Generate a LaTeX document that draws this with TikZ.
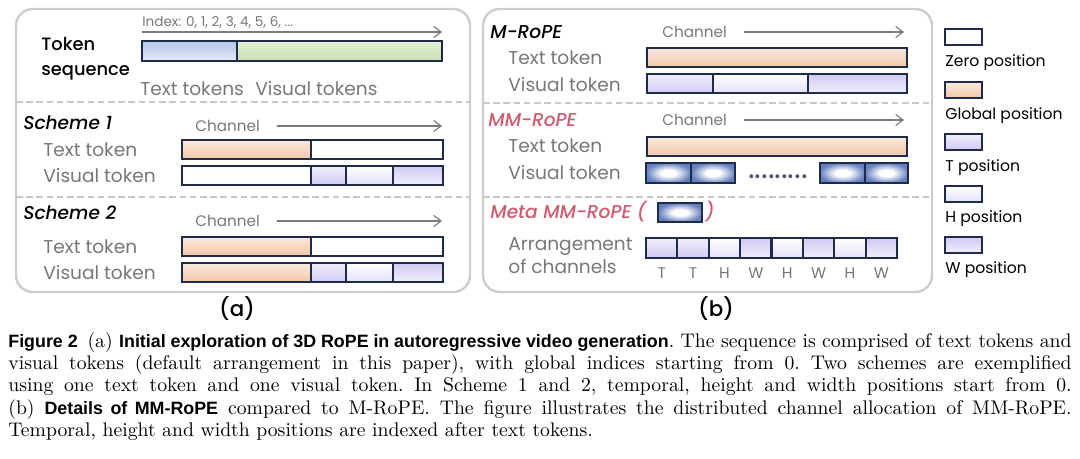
\documentclass[tikz,border=0pt]{standalone}
\usepackage{fontspec}
\newfontfamily\figfont{Poppins}
\newfontfamily\fighead{Poppins Medium Italic}
\newfontfamily\figmed{Poppins Medium}
\newfontfamily\capsf{Liberation Sans}
\usetikzlibrary{arrows.meta}

\definecolor{navy}{HTML}{1E2B4A}
\definecolor{panelgray}{HTML}{CDCDCD}
\definecolor{sepgray}{HTML}{C8C8C8}
\definecolor{labelgray}{HTML}{777777}
\definecolor{arrowgray}{HTML}{7A7A7A}
\definecolor{ropered}{HTML}{D05A6E}
\definecolor{peachtop}{HTML}{FBE9DC}
\definecolor{peachbot}{HTML}{F2C7A8}
\definecolor{bluetop}{HTML}{B4C7E6}
\definecolor{bluebot}{HTML}{E3EBF6}
\definecolor{greentop}{HTML}{E4F0D9}
\definecolor{greenbot}{HTML}{C7DFB2}
\definecolor{lilacdeep}{HTML}{D2CAF3}
\definecolor{lilaclight}{HTML}{F0EEFC}
\definecolor{metablue}{HTML}{4E6DB4}

\pgfdeclareradialshading{metaglow}{\pgfpoint{0bp}{0bp}}{color(0bp)=(white); color(8bp)=(white); color(25bp)=(metablue!85); color(50bp)=(metablue)}

\tikzset{
  panel/.style={draw=panelgray, line width=1.3pt, rounded corners=9pt},
  sepline/.style={draw=sepgray, line width=0.9pt, dash pattern=on 3.5pt off 2pt},
  cell/.style={draw=navy, line width=1.1pt},
  zeropos/.style={cell, fill=white},
  globalpos/.style={cell, top color=peachtop, bottom color=peachbot},
  tpos/.style={cell, top color=lilaclight, bottom color=lilacdeep},
  hpos/.style={cell, top color=white, bottom color=lilaclight!60!lilacdeep},
  wpos/.style={cell, top color=lilacdeep, bottom color=lilaclight},
  textpos/.style={cell, top color=bluetop, bottom color=bluebot},
  vispos/.style={cell, top color=greentop, bottom color=greenbot},
  metapos/.style={cell, shading=metaglow},
  lbl/.style={inner sep=0pt, anchor=west, text=labelgray, font=\figfont\fontsize{10}{12.4}\selectfont},
  head/.style={inner sep=0pt, anchor=west, font=\fighead\fontsize{10}{12}\selectfont},
  chan/.style={inner sep=0pt, anchor=west, text=labelgray, font=\figfont\fontsize{8.2}{10}\selectfont},
  tiny/.style={inner sep=0pt, text=labelgray, font=\figfont\fontsize{8.3}{9}\selectfont},
  legtxt/.style={inner sep=0pt, anchor=west, font=\figfont\fontsize{8.4}{10}\selectfont},
  garrow/.style={draw=arrowgray, line width=0.6pt, -{Straight Barb[length=4pt,width=6pt]}},
}
\newcommand\capbold{\capsf\bfseries\fontsize{9.6}{12}\selectfont}

\begin{document}
\begin{tikzpicture}[x=0.538pt, y=-0.538pt]
	\useasboundingbox (0,0) rectangle (1080,458);

	% Panels and separators
	\draw[panel] (16,9) rectangle (470,292);
	\draw[panel] (483,9) rectangle (932,292);
	\draw[sepline] (16,102) -- (470,102);
	\draw[sepline] (16,197) -- (470,197);
	\draw[sepline] (483,103) -- (932,103);
	\draw[sepline] (483,197) -- (932,197);

	% (a) Token sequence
	\node[inner sep=0pt, anchor=west, align=left, font=\figmed\fontsize{9.6}{13.5}\selectfont] (tokseq) at (41,59) {Token\\sequence};
	\node[inner sep=0pt, anchor=west, text=labelgray, font=\figfont\fontsize{7.3}{8}\selectfont] (index) at (142,22) {Index: 0, 1, 2, 3, 4, 5, 6, ...};
	\coordinate (idxS) at (142,32);
	\coordinate (idxE) at (442,32);
	\draw[garrow] (idxS) -- (idxE);
	\path[textpos] (142,41) rectangle (237,61);
	\path[vispos] (237,41) rectangle (442,61);
	\node[lbl] (txttoks) at (140,89) {Text tokens};
	\node[lbl] (vistoks) at (255,89) {Visual tokens};

	% (a) Scheme 1
	\node[head] (schemeA) at (23,123) {Scheme 1};
	\node[chan] (chanA) at (195,126) {Channel};
	\coordinate (chanAend) at (442,126);
	\draw[garrow] ([xshift=9pt]chanA.east) -- (chanAend);
	\node[lbl] (txtA) at (43,150) {Text token};
	\node[lbl] (visA) at (43,176) {Visual token};
	\path[globalpos] (182,140) rectangle (311,159);
	\path[zeropos] (311,140) rectangle (443,159);
	\path[zeropos] (182,166) rectangle (311,185);
	\path[tpos] (311,166) rectangle (346,185);
	\path[hpos] (346,166) rectangle (393,185);
	\path[wpos] (393,166) rectangle (443,185);

	% (a) Scheme 2
	\node[head] (schemeB) at (23,213) {Scheme 2};
	\node[chan] (chanB) at (195,221) {Channel};
	\coordinate (chanBend) at (442,221);
	\draw[garrow] ([xshift=9pt]chanB.east) -- (chanBend);
	\node[lbl] (txtB) at (43,247) {Text token};
	\node[lbl] (visB) at (43,273) {Visual token};
	\path[globalpos] (182,237) rectangle (311,256);
	\path[zeropos] (311,237) rectangle (443,256);
	\path[globalpos] (182,263) rectangle (311,282);
	\path[tpos] (311,263) rectangle (346,282);
	\path[hpos] (346,263) rectangle (393,282);
	\path[wpos] (393,263) rectangle (443,282);

	% (b) M-RoPE
	\node[head] (mrope) at (490,32) {M-RoPE};
	\node[chan] (chanC) at (662,32) {Channel};
	\coordinate (chanCend) at (904,32);
	\draw[garrow] ([xshift=9pt]chanC.east) -- (chanCend);
	\node[lbl] (txtC) at (508,58) {Text token};
	\node[lbl] (visC) at (508,85) {Visual token};
	\path[globalpos] (647,48) rectangle (907,67);
	\path[tpos] (647,74) rectangle (713,93);
	\path[hpos] (713,74) rectangle (808,93);
	\path[wpos] (808,74) rectangle (907,93);

	% (b) MM-RoPE
	\node[head, text=ropered] (mmrope) at (488,120) {MM-RoPE};
	\node[chan] (chanD) at (662,120) {Channel};
	\coordinate (chanDend) at (904,120);
	\draw[garrow] ([xshift=9pt]chanD.east) -- (chanDend);
	\node[lbl] (txtD) at (508,146) {Text token};
	\node[lbl] (visD) at (508,173) {Visual token};
	\path[globalpos] (647,137) rectangle (907,156);
	\path[metapos] (646,163) rectangle (691,183);
	\path[metapos] (691,163) rectangle (735,183);
	\node[inner sep=0pt, font=\figfont\fontsize{17}{18}\selectfont, text=navy!80] (dots) at (778,177) {.........};
	\path[metapos] (820,163) rectangle (865,183);
	\path[metapos] (865,163) rectangle (908,183);

	% (b) Meta MM-RoPE
	\node[head, text=ropered] (meta) at (490,212) {Meta MM-RoPE (};
	\path[metapos] (658,203) rectangle (702,222);
	\node[head, text=ropered] (metaend) at (705,212) {)};
	\node[lbl, align=left] (arrange) at (508,256) {Arrangement\\of channels};
	\path[tpos] (646,238) rectangle (677.4,258);
	\path[tpos] (677.4,238) rectangle (708.8,258);
	\path[hpos] (708.8,238) rectangle (740.1,258);
	\path[wpos] (740.1,238) rectangle (771.5,258);
	\path[hpos] (771.5,238) rectangle (802.9,258);
	\path[wpos] (802.9,238) rectangle (834.3,258);
	\path[hpos] (834.3,238) rectangle (865.6,258);
	\path[wpos] (865.6,238) rectangle (897,258);
	\node[tiny] (chT1) at (661.7,273) {T};
	\node[tiny] (chT2) at (693.1,273) {T};
	\node[tiny] (chH1) at (724.5,273) {H};
	\node[tiny] (chW1) at (755.8,273) {W};
	\node[tiny] (chH2) at (787.2,273) {H};
	\node[tiny] (chW2) at (818.6,273) {W};
	\node[tiny] (chH3) at (850,273) {H};
	\node[tiny] (chW3) at (881.3,273) {W};

	% Legend
	\path[zeropos] (945,29) rectangle (982,45);
	\node[legtxt] (legzero) at (945,63) {Zero position};
	\path[globalpos] (945,82) rectangle (982,98);
	\node[legtxt] (legglobal) at (945,116) {Global position};
	\path[tpos] (945,134) rectangle (982,150);
	\node[legtxt] (legt) at (945,168) {T position};
	\path[hpos] (945,186) rectangle (982,202);
	\node[legtxt] (legh) at (945,219) {H position};
	\path[wpos] (945,237) rectangle (982,253);
	\node[legtxt] (legw) at (945,270) {W position};

	% Sub-labels
	\node[inner sep=0pt, font=\figmed\fontsize{11.5}{12}\selectfont] (suba) at (237,309) {(a)};
	\node[inner sep=0pt, font=\figmed\fontsize{11.5}{12}\selectfont] (subb) at (716,309) {(b)};

	% Caption
	\node[inner sep=0pt, anchor=north west, text width=572pt, align=justify, font=\fontsize{10.6}{12}\selectfont] (caption) at (8,332) {\frenchspacing\hbadness=10000\noindent
	{\capbold Figure 2}\hspace{0.5em}(a) {\capbold Initial exploration of 3D RoPE in autoregressive video generation}. The sequence is comprised of text tokens and\linebreak
	visual tokens (default arrangement in this paper), with global indices starting from 0. Two schemes are exemplified\linebreak
	using one text token and one visual token. In Scheme 1 and 2, temporal, height and width positions start from 0.\linebreak
	(b) {\capbold Details of MM-RoPE} compared to M-RoPE. The figure illustrates the distributed channel allocation of MM-RoPE.\linebreak
	Temporal, height and width positions are indexed after text tokens.};
\end{tikzpicture}
\end{document}
